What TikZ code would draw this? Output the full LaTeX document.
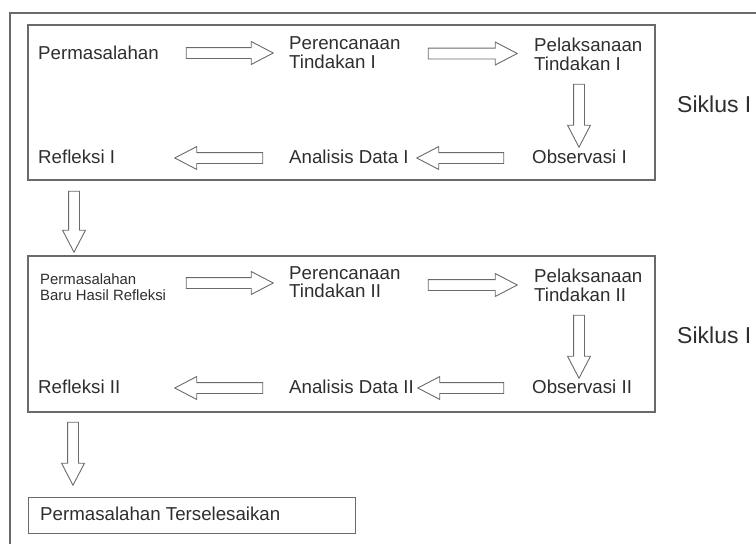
\documentclass[tikz,border=0pt]{standalone}
\usepackage{fontspec}
\setmainfont{Liberation Sans}
\usetikzlibrary{shapes.arrows}
\definecolor{linec}{HTML}{6A6A6A}
\definecolor{txtc}{HTML}{2E2E2E}
\tikzset{
  lbl/.style={anchor=west, inner sep=0pt, text=txtc, align=left,
    font=\fontsize{18.7}{18.5}\selectfont},
  small/.style={lbl, font=\fontsize{14.9}{16}\selectfont},
  sik/.style={lbl, font=\fontsize{23}{23}\selectfont},
  frame/.style={draw=linec, line width=1.1pt},
  barrow/.style={single arrow, draw=linec, line width=0.9pt, fill=white,
    inner sep=5pt, single arrow head extend=6pt, single arrow tip angle=55,
    anchor=center, text width=0pt, minimum width=22pt},
}
\begin{document}
\begin{tikzpicture}[x=1pt,y=-1pt]
\useasboundingbox (0,0) rectangle (756,544);
% outer frame (partial)
\draw[frame] (10,544) -- (10,13) -- (756,13);
% boxes
\draw[frame] (28,25) rectangle (655,180);
\draw[frame] (28,256) rectangle (655,412);
\node[frame, draw, anchor=north west, minimum width=327pt, minimum height=36pt, inner sep=0pt] (done) at (28,497) {};
% cycle 1 labels
\node[lbl] (perm1) at (38,53) {Permasalahan};
\node[lbl] (per1) at (289,52.5) {Perencanaan\\Tindakan I};
\node[lbl] (pel1) at (534,54.5) {Pelaksanaan\\Tindakan I};
\node[lbl] (obs1) at (532,157) {Observasi I};
\node[lbl] (ana1) at (289,157) {Analisis Data I};
\node[lbl] (ref1) at (38,157) {Refleksi I};
\node[sik] (sik1) at (677,104) {Siklus I};
% cycle 1 arrows
\node[barrow, minimum height=87pt] (a11) at (224.5,53) {};
\node[barrow, minimum height=89pt] (a12) at (467.5,53.5) {};
\node[barrow, minimum height=63pt, rotate=-90] (a13) at (579,110.5) {};
\node[barrow, minimum height=87pt, rotate=180] (a14) at (465.5,158) {};
\node[barrow, minimum height=88pt, rotate=180] (a15) at (224,158) {};
% between
\node[barrow, minimum height=61pt, rotate=-90] (a1to2) at (74,216.5) {};
% cycle 2 labels
\node[small] (perm2) at (40,287) {Permasalahan\\Baru Hasil Refleksi};
\node[lbl] (per2) at (289,282) {Perencanaan\\Tindakan II};
\node[lbl] (pel2) at (534,285.5) {Pelaksanaan\\Tindakan II};
\node[lbl] (obs2) at (532,387) {Observasi II};
\node[lbl] (ana2) at (289,387) {Analisis Data II};
\node[lbl] (ref2) at (38,387) {Refleksi II};
\node[sik] (sik2) at (677,335) {Siklus I};
% cycle 2 arrows
\node[barrow, minimum height=87pt] (a21) at (224.5,283) {};
\node[barrow, minimum height=89pt] (a22) at (467.5,285) {};
\node[barrow, minimum height=63pt, rotate=-90] (a23) at (579,341.5) {};
\node[barrow, minimum height=86pt, rotate=180] (a24) at (466,388) {};
\node[barrow, minimum height=88pt, rotate=180] (a25) at (224,388) {};
% final
\node[barrow, minimum height=63pt, rotate=-90] (a2to3) at (73,448.5) {};
\node[lbl] (donet) at (40,514) {Permasalahan Terselesaikan};
\end{tikzpicture}
\end{document}
